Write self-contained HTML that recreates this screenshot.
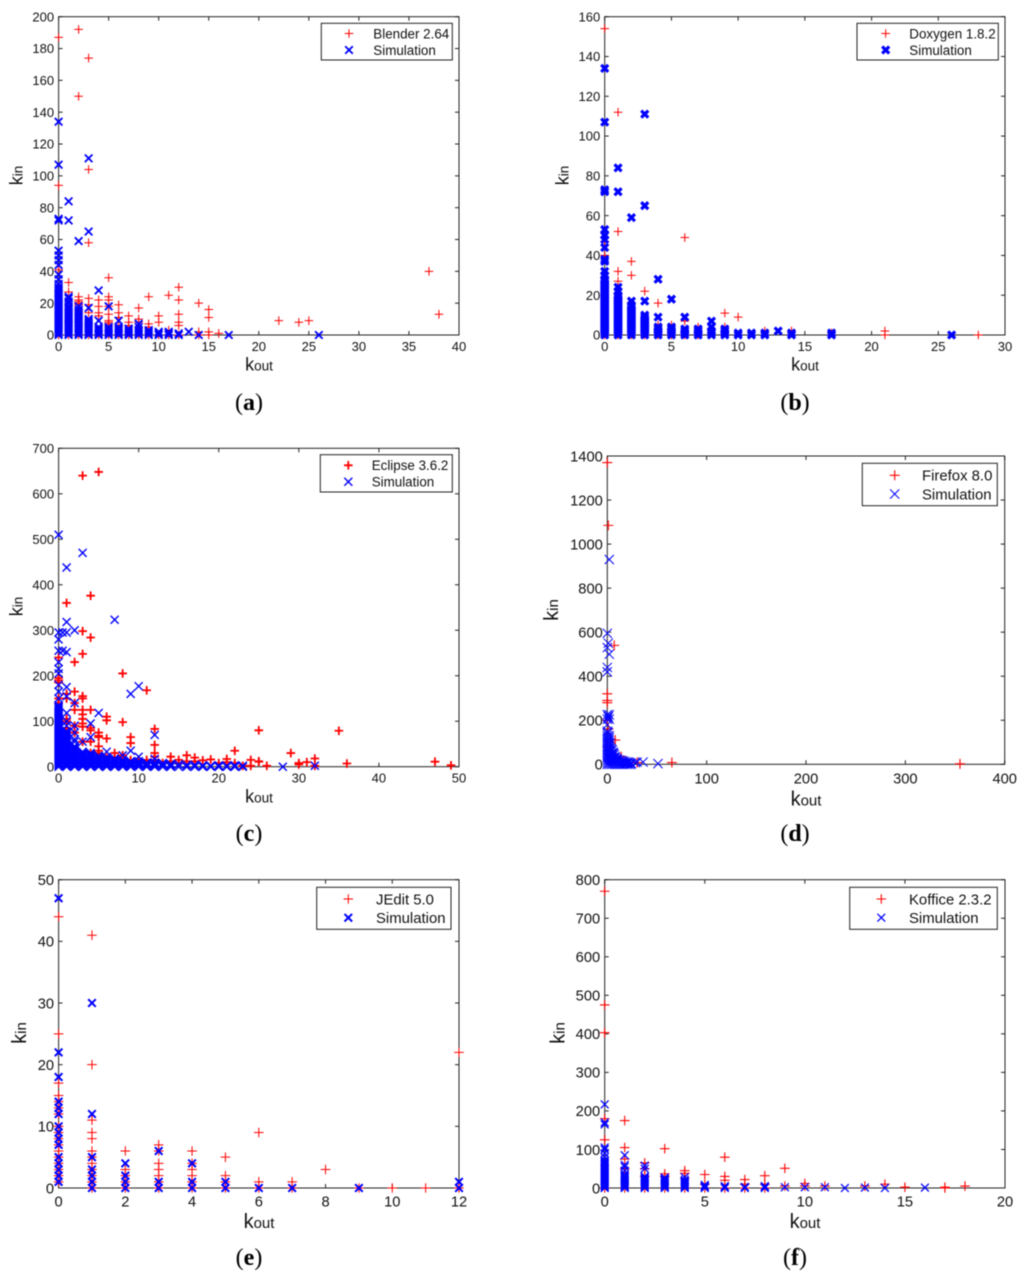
<!DOCTYPE html>
<html lang="en">
<head>
<meta charset="utf-8">
<title>kin vs kout scatter plots</title>
<style>
html,body{margin:0;padding:0;background:#fff;width:1024px;height:1279px;overflow:hidden}
svg{display:block;filter:blur(0.45px)}
text{font-family:"Liberation Sans",Arial,sans-serif;fill:#111}
.cap{font-family:"Liberation Serif","Times New Roman",serif;font-size:24px;fill:#000}
</style>
</head>
<body>
<svg id="figure" xmlns="http://www.w3.org/2000/svg" width="1024" height="1279" viewBox="0 0 1024 1279"></svg>
<script>
/* ---------- Panel (a) Blender ---------- */
const blenderXTicks=[0,5,10,15,20,25,30,35,40];
const blenderYTicks=[0,20,40,60,80,100,120,140,160,180,200];
const blenderKout=[0,1,2,3,4,5,6,7,8,9,10,11,12,14,15,16,22,24,25,37,38];
const blenderKin=[[187,94,41,28,0],[33,27,16,8,0],[192,150,24,22,21,20,19,16,15,0],[174,104,58,23,19,14,7,0],[22,18,14,12,0],[36,24,22,18,13,9,8,7,0],[19,14,11,6,0],[12,8,6,0],[17,10,8,5,0],[24,7,5,0],[12,8,0],[25,3,0],[30,22,13,8,6,0],[20,2,0],[16,11,2,0],[1],[9],[8],[9],[40],[13]];
const blenderSimKout=[0,1,2,3,4,5,6,7,8,9,10,11,12,13,14,17,26];
const blenderSimKin=[[134,107,73,72,53,50,47,44,38,35,32,30,29,28,27,26,25,24,23,22,21,20,19,18,17,16,15,14,13,12,11,10,9,8,7,6,5,4,3,2,1,0],[84,72,24,23,21,20,18,17,16,15,14,13,12,11,10,9,8,7,6,5,4,3,2,1,0],[59,18,16,15,14,13,12,11,10,9,8,7,6,5,4,3,2,1,0],[111,65,17,10,9,8,7,6,5,4,3,2,1,0],[28,9,5,4,3,2,1,0],[18,5,4,3,2,1,0],[9,5,4,3,2,1,0],[4,3,2,1,0],[7,5,3,2,1,0],[3,2,1,0],[2,1,0],[2,1,0],[1,0],[2],[0],[0],[0]];

/* ---------- Panel (b) Doxygen ---------- */
const doxygenXTicks=[0,5,10,15,20,25,30];
const doxygenYTicks=[0,20,40,60,80,100,120,140,160];
const doxygenKout=[0,1,2,3,4,5,6,7,9,10,12,14,17,21,28];
const doxygenKin=[[154,47,40,0],[112,52,32,27,21,16,8,0],[37,30,13,0],[22,6,0],[16,5,0],[5,0],[49,7,0],[4,0],[11,4],[9],[2],[2],[1],[2,0],[0]];
const doxygenSimKout=[0,1,2,3,4,5,6,7,8,9,10,11,12,13,14,17,26];
const doxygenSimKin=[[134,107,73,72,53,50,48,44,38,37,32,30,28,27,26,25,24,23,22,21,20,19,18,17,16,15,14,13,12,11,10,9,8,7,6,5,4,3,2,1,0],[84,72,24,22,20,19,18,17,16,15,14,13,12,11,10,9,8,7,6,5,4,3,2,1,0],[59,17,15,14,13,12,11,10,9,8,7,6,5,4,3,2,1,0],[111,65,17,10,9,8,7,6,5,4,3,2,1,0],[28,9,4,3,2,1,0],[18,4,3,2,1,0],[9,3,2,1,0],[3,2,1,0],[7,4,2,1,0],[3,2,1,0],[1,0],[1,0],[1,0],[2],[1,0],[1,0],[0]];

/* ---------- Panel (c) Eclipse ---------- */
const eclipseXTicks=[0,10,20,30,40,50];
const eclipseYTicks=[0,100,200,300,400,500,600,700];
const eclipseKout=[0,1,2,3,4,5,6,7,8,9,10,11,12,13,14,15,16,17,18,19,20,21,22,23,24,25,26,29,30,31,32,35,36,47,49];
const eclipseKin=[[240,195,190,185,150,140],[360,160,150,105,100,85,70],[230,165,140,125,90,75],[640,298,248,155,150,125,115,105,95,88,55],[376,284,125,85,80,55,30],[648,75,68,65,45,35,30],[110,102,62,20],[30,20],[205,98,25],[65,52,15],[15,10],[168,15],[83,48,30,22,15],[8],[22,12],[15,8],[25,12],[20,12],[14],[16],[8],[17,10],[35,8],[2],[15,2],[80,12,11],[2],[30],[8,5],[10],[18,2],[79],[7],[11],[3]];
const eclipseSimKout=[0,0.5,1,2,3,4,5,6,7,8,9,10,11,12,13,14,15,16,17,18,19,20,21,22,23,28,32];
const eclipseSimKin=[[510,295,280,255,230,215,205,180,165,150,135,132,129,126,123,120,117,114,111,108,105,102,99,96,93,90,87,84,81,78,75,72,69,66,63,60,57,54,51,48,45,42,39,36,33,30,27,24,21,18,15,12,9,6,3,0],[295,255],[438,318,295,252,175,155,118,100,90,78,75,72,69,66,63,60,57,54,51,48,45,42,39,36,33,30,27,24,21,18,15,12,9,6,3,0],[300,140,90,75,60,55,45,42,39,36,33,30,27,24,21,18,15,12,9,6,3,0],[470,55,33,30,27,24,21,18,15,12,9,6,3,0],[95,65,30,27,24,21,18,15,12,9,6,3,0],[118,24,21,18,15,12,9,6,3,0],[33,21,18,15,12,9,6,3,0],[323,18,15,12,9,6,3,0],[25,15,12,9,6,3,0],[160,35,12,9,6,3,0],[177,22,12,9,6,3,0],[9,6,3,0],[70,17,9,6,3,0],[8,4,0],[6,3,0],[5,0],[4,0],[4,0],[3,0],[2,0],[3,0],[2,0],[3,0],[2,0],[0],[2],[1]];

/* ---------- Panel (d) Firefox ---------- */
const firefoxXTicks=[0,100,200,300,400];
const firefoxYTicks=[0,200,400,600,800,1000,1200,1400];
const firefoxKout=[0,1,3,7,8,14,30,65,355];
const firefoxKin=[[1370,320,290,280,200,80],[1085,160],[100],[540],[110],[35],[8],[8],[2]];
const firefoxSimKout=[0,1,2,3,4,5,6,7,8,9,10,12,14,16,18,20,22,24,28,30,36,51];
const firefoxSimKin=[[595,530,440,420,225,205,180,150,140,130,120,110,100,90,80,70,60,50,40,30,20,10,0],[550,215,145,125,105,85,65,45,25,5],[930,500,225,205,130,120,110,100,90,80,70,60,50,40,30,20,10,0],[95,75,55,35,15],[70,60,50,40,30,20,10,0],[65,45,25,5],[55,50,40,30,20,10,0],[45,25,5],[35,30,20,10,0],[25,15,5],[25,20,10,0],[20,10,0],[18,10,0],[15,10,0],[12,5,0],[10,5,0],[8,0],[5,0],[8],[10],[10],[3]];

/* ---------- Panel (e) JEdit ---------- */
const jeditXTicks=[0,2,4,6,8,10,12];
const jeditYTicks=[0,10,20,30,40,50];
const jeditKout=[0,1,2,3,4,5,6,7,8,9,10,11,12];
const jeditKin=[[44,25,17,15,14,13,12,10,9,8,7,6,5,4,3,2,1],[41,20,11,9,8,6,5,4,3,2,1,0],[6,3,2,1,0],[7,6,4,3,2,1,0],[6,4,3,2,1,0],[5,2,1,0],[9,1,0],[1,0],[3],[0],[0],[0],[22,0]];
const jeditSimKout=[0,1,2,3,4,5,6,7,9,12];
const jeditSimKin=[[47,22,18,14,13,12,10,9,8,7,5,4,3,2,1],[30,12,5,3,2,1,0],[4,2,1,0],[6,1,0],[4,1,0],[1,0],[0],[0],[0],[1,0]];

/* ---------- Panel (f) Koffice ---------- */
const kofficeXTicks=[0,5,10,15,20];
const kofficeYTicks=[0,100,200,300,400,500,600,700,800];
const kofficeKout=[0,1,2,3,4,5,6,7,8,9,10,11,13,14,15,17,18];
const kofficeKin=[[770,475,403,180,125,0],[175,105,75,50,0],[65,50,30,0],[102,37,30,0],[45,38,25,0],[35,10,0],[80,30,20,0],[22,10,0],[32,10,0],[51,5],[12,5],[5],[5],[10],[2],[2,0],[5]];
const kofficeSimKout=[0,1,2,3,4,5,6,7,8,9,10,11,12,13,14,16];
const kofficeSimKin=[[217,170,165,105,100,90,80,72,69,66,63,60,57,54,51,48,45,42,39,36,33,30,27,24,21,18,15,12,9,6,3,0],[85,60,55,45,36,33,30,27,24,21,18,15,12,9,6,3,0],[58,50,30,27,24,21,18,15,12,9,6,3,0],[27,24,21,18,15,12,9,6,3,0],[28,21,18,15,12,9,6,3,0],[8,5,3,0],[5,3,0],[3,0],[5,3,0],[2],[2],[2],[0],[1],[0],[1]];

const NS='http://www.w3.org/2000/svg';
const figure=document.getElementById('figure');

function shape(parent,tag,name,attrs){
  const el=document.createElementNS(NS,tag);
  
  
  for(const k in attrs){el.setAttribute(k,attrs[k]);}
  parent.appendChild(el);
  return el;
}
function label(parent,name,x,y,str,size,anchor,rot){
  const a={x:x,y:y,'font-size':size,'text-anchor':anchor};
  if(rot){a.transform='rotate(-90 '+x+' '+y+')';}
  const t=shape(parent,'text',name,a);
  t.textContent=str;
  return t;
}
function subLabel(parent,name,x,y,main,sub,size,rot){
  const a={x:x,y:y,'text-anchor':'middle'};
  if(rot){a.transform='rotate(-90 '+x+' '+y+')';}
  const t=shape(parent,'text',name,a);
  const m=document.createElementNS(NS,'tspan');
  m.setAttribute('font-size',size);
  m.textContent=main;
  t.appendChild(m);
  const s=document.createElementNS(NS,'tspan');
  s.setAttribute('font-size',size*0.75);
  s.textContent=sub;
  t.appendChild(s);
}
function plus(parent,name,cx,cy,r,color,w){
  return shape(parent,'path',name,{d:'M'+(cx-r)+' '+cy+'H'+(cx+r)+'M'+cx+' '+(cy-r)+'V'+(cy+r),stroke:color,'stroke-width':w,fill:'none'});
}
function cross(parent,name,cx,cy,r,color,w){
  return shape(parent,'path',name,{d:'M'+(cx-r)+' '+(cy-r)+'L'+(cx+r)+' '+(cy+r)+'M'+(cx-r)+' '+(cy+r)+'L'+(cx+r)+' '+(cy-r),stroke:color,'stroke-width':w,fill:'none'});
}

function drawPanel(c){
  const g=shape(figure,'g','panel-'+c.letter,{});
  const xMax=c.xTicks[c.xTicks.length-1];
  const yMax=c.yTicks[c.yTicks.length-1];
  const xPos=function(v){return c.x0+(c.x1-c.x0)*v/xMax;};
  const yPos=function(v){return c.y1-(c.y1-c.y0)*v/yMax;};
  const axisColor='#222';

  /* axes box and ticks */
  shape(g,'rect','plot-area',{x:c.x0,y:c.y0,width:c.x1-c.x0,height:c.y1-c.y0,fill:'#fff',stroke:axisColor,'stroke-width':1});
  c.xTicks.forEach(function(v){
    const x=xPos(v);
    shape(g,'line','x-tick',{x1:x,x2:x,y1:c.y1,y2:c.y1-4,stroke:axisColor,'stroke-width':1});
    shape(g,'line','x-tick-top',{x1:x,x2:x,y1:c.y0,y2:c.y0+4,stroke:axisColor,'stroke-width':1});
    label(g,'x-tick-label',x,c.y1+c.xTickDy,String(v),c.tickSize,'middle');
  });
  c.yTicks.forEach(function(v){
    const y=yPos(v);
    shape(g,'line','y-tick',{x1:c.x0,x2:c.x0+4,y1:y,y2:y,stroke:axisColor,'stroke-width':1});
    shape(g,'line','y-tick-right',{x1:c.x1,x2:c.x1-4,y1:y,y2:y,stroke:axisColor,'stroke-width':1});
    label(g,'y-tick-label',c.x0-4.5,y+c.tickSize*0.36,String(v),c.tickSize,'end');
  });
  subLabel(g,'x-axis-title',c.xLabelX,c.xLabelY,'k','out',c.labelSize,false);
  subLabel(g,'y-axis-title',c.yLabelX,c.yLabelY,'k','in',c.labelSize,true);

  /* series */
  c.kout.forEach(function(x,i){
    c.kin[i].forEach(function(y){
      plus(g,'data-point-'+c.letter,xPos(x),yPos(y),c.redR,'#ff0000',c.redW);
    });
  });
  c.simKout.forEach(function(x,i){
    c.simKin[i].forEach(function(y){
      cross(g,'simulation-point-'+c.letter,xPos(x),yPos(y),c.blueR,'#0000ff',c.blueW);
    });
  });

  /* legend */
  const L=c.legend;
  const lg=shape(g,'g','legend',{});
  shape(lg,'rect','legend-box',{x:L.x0,y:L.y0,width:L.x1-L.x0,height:L.y1-L.y0,fill:'#fff',stroke:axisColor,'stroke-width':1});
  plus(lg,'legend-marker-data',L.mx,L.y_a,c.redR,'#ff0000',c.redW);
  label(lg,'legend-label-data',L.tx,L.y_a+L.size*0.36,c.name,L.size,'start');
  cross(lg,'legend-marker-simulation',L.mx,L.y_b,c.blueR,'#0000ff',c.blueW);
  label(lg,'legend-label-simulation',L.tx,L.y_b+L.size*0.36,'Simulation',L.size,'start');

  /* caption */
  const cap=shape(g,'text','panel-caption',{x:c.capX,y:c.capY,'text-anchor':'middle','class':'cap'});
  const p1=document.createElementNS(NS,'tspan');
  p1.textContent='(';
  cap.appendChild(p1);
  const p2=document.createElementNS(NS,'tspan');
  p2.setAttribute('font-weight','bold');
  p2.textContent=c.letter;
  cap.appendChild(p2);
  const p3=document.createElementNS(NS,'tspan');
  p3.textContent=')';
  cap.appendChild(p3);
}

drawPanel({letter:'a',name:'Blender 2.64',x0:58.6,x1:459,y0:16.7,y1:335,xTicks:blenderXTicks,yTicks:blenderYTicks,kout:blenderKout,kin:blenderKin,simKout:blenderSimKout,simKin:blenderSimKin,redR:4.3,redW:1,blueR:3.8,blueW:1.8,tickSize:13,labelSize:18,xTickDy:16,xLabelX:259,xLabelY:370.5,yLabelX:22.5,yLabelY:175.5,capX:249,capY:410,legend:{x0:321.3,x1:452.3,y0:23.3,y1:60,mx:349,tx:373.3,y_a:33.5,y_b:50,size:13.4}});
drawPanel({letter:'b',name:'Doxygen 1.8.2',x0:604.7,x1:1005,y0:16.7,y1:335,xTicks:doxygenXTicks,yTicks:doxygenYTicks,kout:doxygenKout,kin:doxygenKin,simKout:doxygenSimKout,simKin:doxygenSimKin,redR:4.3,redW:1,blueR:3.5,blueW:3.2,tickSize:13,labelSize:18,xTickDy:16,xLabelX:805,xLabelY:370.5,yLabelX:568.3,yLabelY:175.5,capX:795,capY:410,legend:{x0:857,x1:998.3,y0:23.3,y1:60,mx:885.7,tx:909.3,y_a:33.5,y_b:50,size:13.4}});
drawPanel({letter:'c',name:'Eclipse 3.6.2',x0:58.6,x1:459,y0:448.3,y1:766.7,xTicks:eclipseXTicks,yTicks:eclipseYTicks,kout:eclipseKout,kin:eclipseKin,simKout:eclipseSimKout,simKin:eclipseSimKin,redR:4.3,redW:1.8,blueR:4,blueW:1.4,tickSize:13,labelSize:18,xTickDy:16,xLabelX:259,xLabelY:802.5,yLabelX:22.5,yLabelY:606.5,capX:249,capY:841,legend:{x0:320.3,x1:452.3,y0:454.7,y1:492,mx:348.3,tx:371.7,y_a:465.3,y_b:481.7,size:13.4}});
drawPanel({letter:'d',name:'Firefox 8.0',x0:607.3,x1:1004.7,y0:456,y1:764.3,xTicks:firefoxXTicks,yTicks:firefoxYTicks,kout:firefoxKout,kin:firefoxKin,simKout:firefoxSimKout,simKin:firefoxSimKin,redR:5,redW:1.1,blueR:4.6,blueW:1,tickSize:14.7,labelSize:20,xTickDy:19,xLabelX:806,xLabelY:805.5,yLabelX:558,yLabelY:610,capX:795,capY:841,legend:{x0:862.3,x1:997.3,y0:463.3,y1:505.7,mx:894.7,tx:922,y_a:475.3,y_b:494,size:14.9}});
drawPanel({letter:'e',name:'JEdit 5.0',x0:58.6,x1:459,y0:879.7,y1:1188,xTicks:jeditXTicks,yTicks:jeditYTicks,kout:jeditKout,kin:jeditKin,simKout:jeditSimKout,simKin:jeditSimKin,redR:4.8,redW:1,blueR:3.8,blueW:2,tickSize:14.7,labelSize:20,xTickDy:18.7,xLabelX:259,xLabelY:1228,yLabelX:26,yLabelY:1033,capX:249,capY:1265,legend:{x0:316.7,x1:451,y0:887.3,y1:929.3,mx:348.3,tx:376,y_a:899,y_b:917.7,size:14.9}});
drawPanel({letter:'f',name:'Koffice 2.3.2',x0:604.7,x1:1005,y0:879.7,y1:1188,xTicks:kofficeXTicks,yTicks:kofficeYTicks,kout:kofficeKout,kin:kofficeKin,simKout:kofficeSimKout,simKin:kofficeSimKin,redR:4.8,redW:1.1,blueR:3.9,blueW:1.3,tickSize:14.7,labelSize:20,xTickDy:18.7,xLabelX:805,xLabelY:1228,yLabelX:564.3,yLabelY:1033,capX:795,capY:1265,legend:{x0:849.7,x1:997.3,y0:887.3,y1:929.3,mx:881.3,tx:909,y_a:899,y_b:917.7,size:14.9}});
</script>
</body>
</html>
